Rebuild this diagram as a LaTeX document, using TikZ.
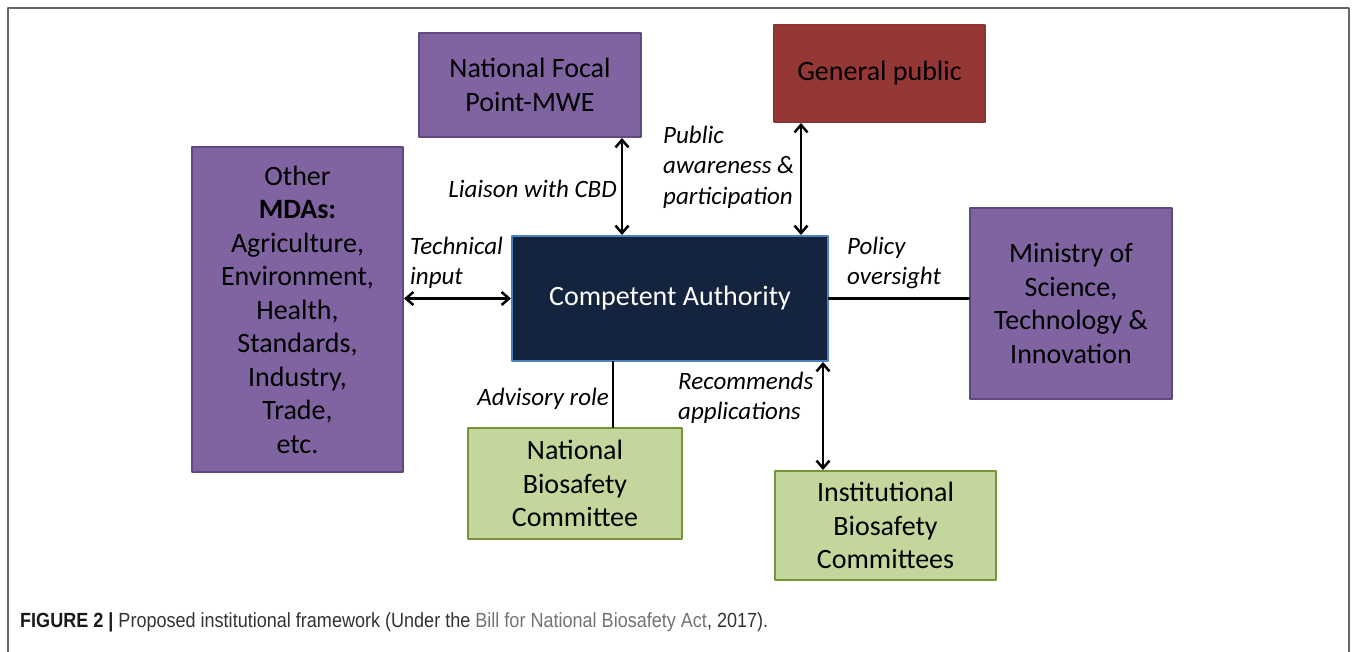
\documentclass[tikz,border=0pt]{standalone}
\usepackage{fontspec}
\setmainfont{Carlito}
\newfontfamily\capfont[FakeStretch=0.88]{Liberation Sans}
\usetikzlibrary{arrows.meta}
\definecolor{mdapurple}{HTML}{8064A2}
\definecolor{mdaedge}{HTML}{5E4A7E}
\definecolor{pubred}{HTML}{953735}
\definecolor{pubedge}{HTML}{8A3331}
\definecolor{canavy}{HTML}{14243E}
\definecolor{caedge}{HTML}{4F81BD}
\definecolor{bsgreen}{HTML}{C3D69B}
\definecolor{bsedge}{HTML}{77933C}

\begin{document}
\begin{tikzpicture}[x=1pt,y=-1pt,line cap=round,line join=round,
  box/.style={draw,line width=2pt,inner sep=0pt,align=center,
    font=\fontsize{28}{33.5}\selectfont},
  purplebox/.style={box,fill=mdapurple,draw=mdaedge},
  greenbox/.style={box,fill=bsgreen,draw=bsedge},
  lab/.style={inner sep=0pt,font=\fontsize{25}{30.5}\selectfont\itshape},
  dbl/.style={{Straight Barb[length=7.5pt,width=13pt]}-{Straight Barb[length=7.5pt,width=13pt]},line width=2.5pt},
  link/.style={line width=2.5pt}]
\useasboundingbox (0,0) rectangle (1358,652);
% frame of the figure
\draw[line width=1.8pt,color=black!60] (8,652) -- (8,8) -- (1349,8) -- (1349,652);
% boxes
\node[purplebox,minimum width=222,minimum height=104] (nfp) at (530,85) {National Focal\\Point-MWE};
\node[box,fill=pubred,draw=pubedge,minimum width=211,minimum height=97] (gp) at (879.5,73.5) {General public};
\node[purplebox,minimum width=211,minimum height=325] (mda) at (297.5,309.5) {Other\\\textbf{MDAs:}\\Agriculture,\\Environment,\\Health,\\Standards,\\Industry,\\Trade,\\etc.};
\node[box,fill=canavy,draw=caedge,text=white,minimum width=316,minimum height=125] (ca) at (670,298.5) {Competent Authority};
\node[purplebox,minimum width=202,minimum height=191] (mst) at (1071,303.5) {Ministry of\\Science,\\Technology \&\\Innovation};
\node[greenbox,minimum width=214,minimum height=111] (nbc) at (575,483.5) {National\\Biosafety\\Committee};
\node[greenbox,minimum width=221,minimum height=109] (ibc) at (885.5,525.5) {Institutional\\Biosafety\\Committees};
% where the vertical connectors run
\coordinate (liaison) at (622,0);
\coordinate (public) at (801,0);
\coordinate (advisory) at (613,0);
\coordinate (recommend) at (823,0);
% connectors
\draw[dbl] (nfp.south -| liaison) -- (ca.north -| liaison);
\draw[dbl] (gp.south -| public) -- (ca.north -| public);
\draw[dbl] (mda.east |- ca) -- (ca.west);
\draw[link] (ca.east) -- (mst.west |- ca);
\draw[link] (ca.south -| advisory) -- (nbc.north -| advisory);
\draw[dbl] (ca.south -| recommend) -- (ibc.north -| recommend);
% labels
\node[lab,anchor=east] (lliaison) at (617,189) {Liaison with CBD};
\node[lab,anchor=west,align=left] (lpublic) at (663,167) {Public\\awareness \&\\participation};
\node[lab,anchor=west,align=left] (ltech) at (410,263) {Technical\\input};
\node[lab,anchor=west,align=left] (lpolicy) at (847,263) {Policy\\oversight};
\node[lab,anchor=east] (ladvisory) at (609,399) {Advisory role};
\node[lab,anchor=west,align=left] (lrecommend) at (678,398) {Recommends\\applications};
% caption
\node[anchor=west,inner sep=0pt,font=\capfont\fontsize{20.5}{24}\selectfont,text=black!80] (caption) at (20,622)
  {\textcolor{black!90}{\bfseries FIGURE 2 |} Proposed institutional framework (Under the \textcolor{black!55}{Bill for National Biosafety Act}, 2017).};
\end{tikzpicture}
\end{document}
